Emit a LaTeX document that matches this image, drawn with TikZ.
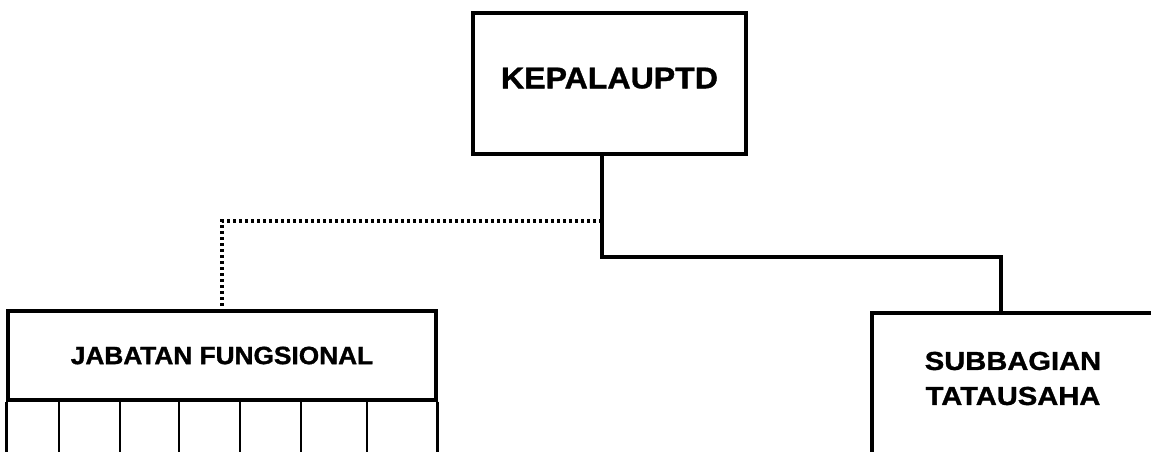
\documentclass[tikz,border=0pt]{standalone}
\usepackage{fontspec}
\setmainfont{Liberation Sans}
\usepackage{tikz}
\usetikzlibrary{calc}

\tikzset{
  unitbox/.style={draw, line width=3.2pt, inner sep=0pt, font=\bfseries},
  solidlink/.style={line width=4.2pt},
  dottedlink/.style={line width=3.4pt, dash pattern=on 3pt off 3pt},
}

\begin{document}
\begin{tikzpicture}[x=1pt, y=-1pt]
  \useasboundingbox (0,0) rectangle (1151,451);
  \clip (0,0) rectangle (1151,451);

  % ── Head of the unit ─────────────────────────────────────────────
  \node[unitbox, minimum width=273pt, minimum height=141pt, text depth=11pt,
        font=\bfseries\fontsize{30}{36}\selectfont\addfontfeature{FakeStretch=1.07,FakeBold=1.2}]
        (kepala) at (609.5,83.5) {KEPALAUPTD};

  % ── Functional positions, with its columns ───────────────────────
  \node[unitbox, minimum width=428pt, minimum height=89pt,
        font=\bfseries\fontsize{25}{30}\selectfont\addfontfeature{FakeStretch=1.05,FakeBold=1.2}]
        (jabatan) at (222,355.5) {JABATAN FUNGSIONAL};
  \draw[line width=3.2pt] (jabatan.south west) -- ++(0,70);
  \draw[line width=3.2pt] (jabatan.south east) -- ++(0,70);
  \foreach \cx in {59,120,179,240,301,367}
    \draw[line width=2pt] (jabatan.south -| \cx,0) -- ++(0,70);

  % ── Administrative sub-section (cut off at the page edge) ────────
  \coordinate (subtop) at (1001,313);
  \draw[line width=3.2pt] (1170,313) -- (872,313) -- (872,470);
  \node[font=\bfseries\fontsize{26}{35}\selectfont\addfontfeature{FakeStretch=1.12,FakeBold=1.2},
        align=center] (subbagian) at (1013,378.5) {SUBBAGIAN\\TATAUSAHA};

  % ── Connectors ───────────────────────────────────────────────────
  \coordinate (trunk) at (602,257);
  \draw[solidlink] (kepala.south -| trunk) -- (trunk) -| (subtop);
  \draw[dottedlink] (602,221) -| (jabatan.north);
\end{tikzpicture}
\end{document}
